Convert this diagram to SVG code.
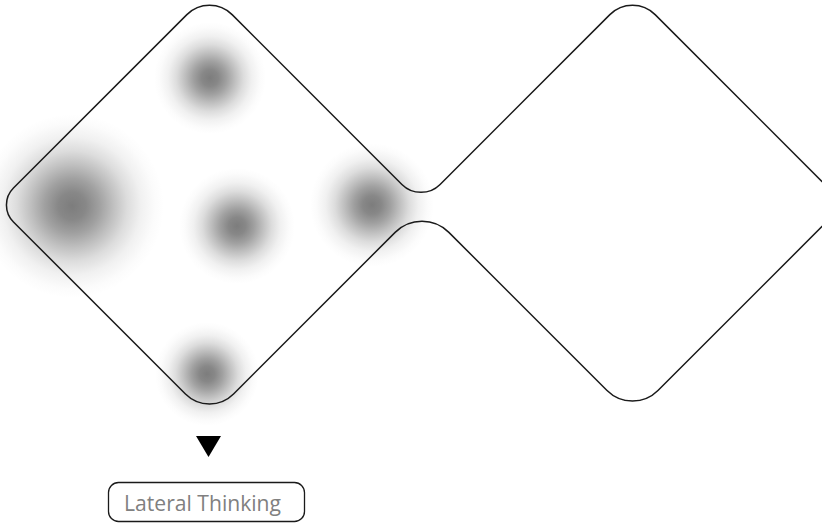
<svg xmlns="http://www.w3.org/2000/svg" width="822" height="525" viewBox="0 0 822 525">
  <defs>
    <radialGradient id="blob">
      <stop offset="0" stop-color="#4a4a4a" stop-opacity="0.72"/>
      <stop offset="0.15" stop-color="#4a4a4a" stop-opacity="0.66"/>
      <stop offset="0.3" stop-color="#4a4a4a" stop-opacity="0.52"/>
      <stop offset="0.45" stop-color="#4a4a4a" stop-opacity="0.35"/>
      <stop offset="0.6" stop-color="#4a4a4a" stop-opacity="0.19"/>
      <stop offset="0.75" stop-color="#4a4a4a" stop-opacity="0.08"/>
      <stop offset="0.9" stop-color="#4a4a4a" stop-opacity="0.02"/>
      <stop offset="1" stop-color="#4a4a4a" stop-opacity="0"/>
    </radialGradient>
    <style>
      .outline { fill: none; stroke: #1a1a1a; stroke-width: 1.5; }
      .b { fill: url(#blob); }
      .lbl { fill: #ffffff; stroke: #1a1a1a; stroke-width: 1.3; }
      .txt { font-family: "Open Sans", "Liberation Sans", sans-serif; font-size: 22.5px; fill: #808080; }
    </style>
  </defs>
  <rect width="822" height="525" fill="#ffffff"/>
  <g id="blobs">
    <circle class="b" cx="72" cy="206" r="92"/>
    <circle class="b" cx="210" cy="78" r="56"/>
    <circle class="b" cx="237" cy="226" r="58"/>
    <circle class="b" cx="372" cy="205" r="62"/>
    <circle class="b" cx="207" cy="374" r="52"/>
  </g>
  <g id="double-diamond">
    <path class="outline" d="M186.87,14.63 A32,32 0 0 1 232.13,14.63 L401.91,184.41 A27,27 0 0 0 440.09,184.41 L609.87,14.63 A32,32 0 0 1 655.13,14.63 L821.87,181.37 A32,32 0 0 1 821.87,226.63 L657.96,390.54 A36,36 0 0 1 607.04,390.54 L448.87,232.37 A38,38 0 0 0 395.13,232.37 L233.54,393.96 A34,34 0 0 1 185.46,393.96 L13.47,221.97 A24,24 0 0 1 13.47,188.03 Z"/>
  </g>
  <g id="connectors">
    <polygon points="196,436 221,436 208.5,457" fill="#000000"/>
  </g>
  <g id="lateral-thinking">
    <rect class="lbl" x="108.5" y="482.5" width="196" height="39" rx="10" ry="10"/>
    <text class="txt" x="124" y="511" textLength="157" lengthAdjust="spacingAndGlyphs">Lateral Thinking</text>
  </g>
</svg>
